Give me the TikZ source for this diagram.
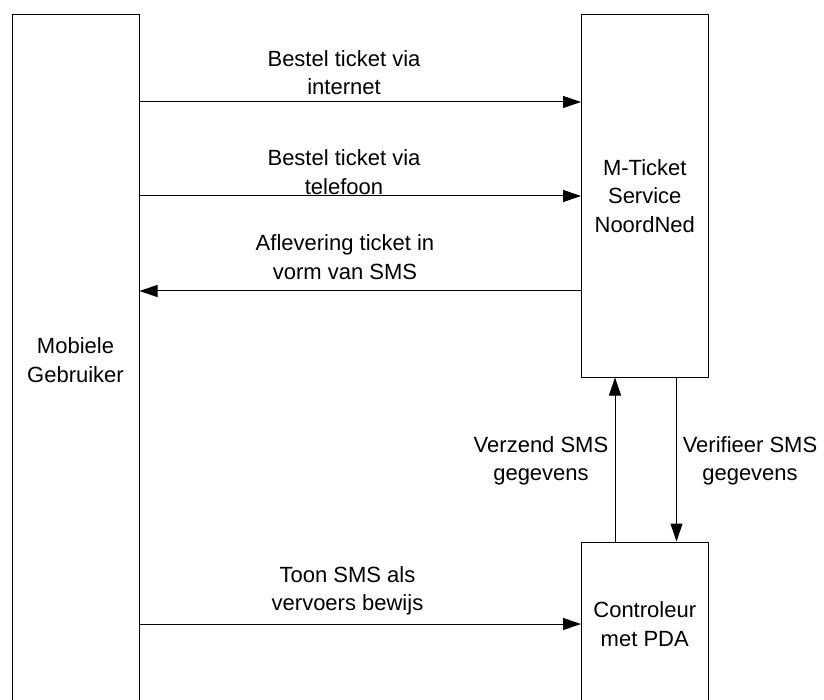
\documentclass[tikz,border=0pt]{standalone}
\usepackage{fontspec}
\setmainfont{Liberation Sans}
\usetikzlibrary{arrows.meta}
\tikzset{
  box/.style={draw=black, line width=1pt, inner sep=0pt, align=center, font=\fontsize{22}{28.5}\selectfont},
  lbl/.style={inner sep=0pt, align=center, font=\fontsize{22}{28.5}\selectfont},
  arr/.style={draw=black, line width=1pt, -{Triangle[length=18pt,width=12pt]}}
}
\begin{document}
\begin{tikzpicture}[x=1pt,y=-1pt]
\path[use as bounding box] (0,0) rectangle (824,700);
\clip (0,0) rectangle (824,700);
\fill[white] (0,0) rectangle (824,700);
\node[box, minimum width=127pt, minimum height=690pt] (user) at (75.5,360) {Mobiele\\Gebruiker};
\node[box, minimum width=126.5pt, minimum height=362pt] (service) at (644.75,196) {M-Ticket\\Service\\NoordNed};
\node[box, minimum width=126.5pt, minimum height=164pt] (pda) at (644.75,624) {Controleur\\met PDA};

\draw[arr] (user.east |- 0,102) -- (service.west |- 0,102);
\draw[arr] (user.east |- 0,196) -- (service.west |- 0,196);
\draw[arr] (service.west |- 0,291) -- (user.east |- 0,291);
\draw[arr] (user.east |- 0,624) -- (pda.west |- 0,624);
\draw[arr] (pda.north -| 615,0) -- (service.south -| 615,0);
\draw[arr] (service.south -| 676.5,0) -- (pda.north -| 676.5,0);

\node[lbl] (l1) at (344,72.5) {Bestel ticket via\\internet};
\node[lbl] (l2) at (344,172) {Bestel ticket via\\telefoon};
\node[lbl] (l3) at (345,257) {Aflevering ticket in\\vorm van SMS};
\node[lbl] (l4) at (347.5,591) {Toon SMS als\\vervoers bewijs};
\node[lbl] (l5) at (541,461) {Verzend SMS\\gegevens};
\node[lbl] (l6) at (750,461) {Verifieer SMS\\gegevens};
\end{tikzpicture}
\end{document}
